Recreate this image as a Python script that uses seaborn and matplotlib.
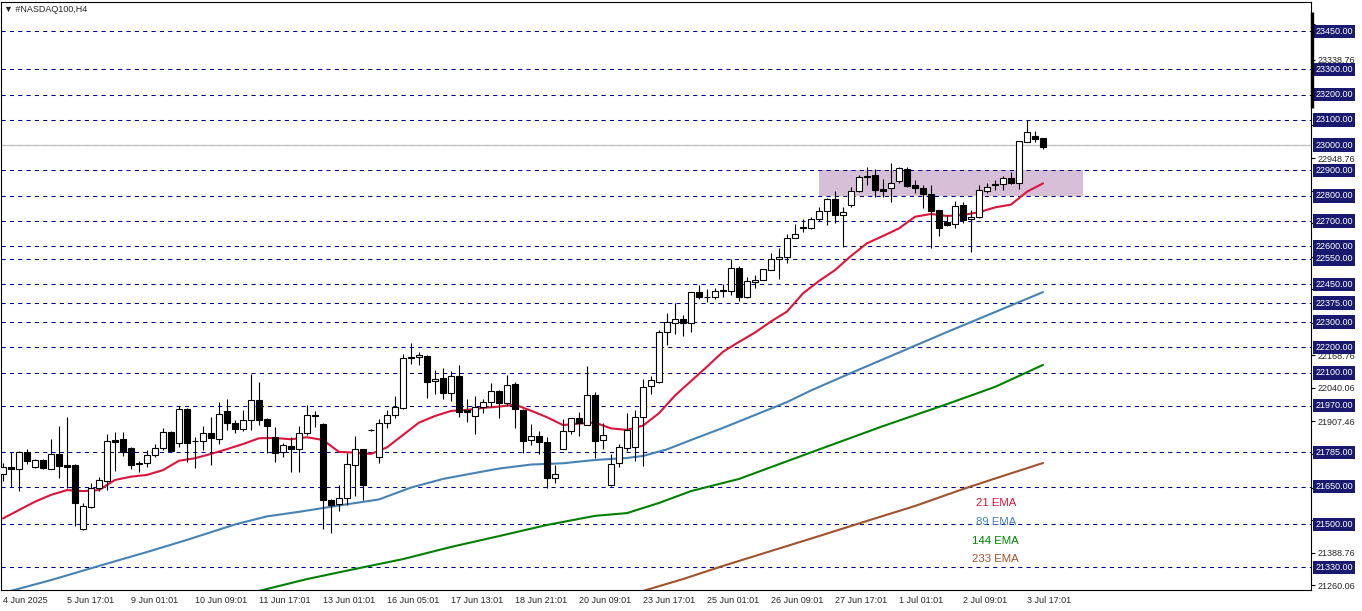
import numpy as np
import pandas as pd
import matplotlib
matplotlib.use("Agg")
import matplotlib.pyplot as plt
import matplotlib.transforms as mtransforms
import seaborn as sns

# ---- data ----
opens = [21698, 21726, 21718, 21785, 21728, 21755, 21721, 21779, 21734, 21735,
         21481, 21570, 21644, 21673, 21833, 21837, 21804, 21742, 21742, 21775,
         21801, 21866, 21821, 21958, 21832, 21830, 21862, 21839, 21948, 21901,
         21876, 21912, 21991, 21917, 21847, 21785, 21809, 21797, 21861, 21933,
         21899, 21597, 21581, 21603, 21734, 21798, 21875, 21768, 21900, 21932,
         21959, 22162, 22161, 22165, 22066, 22078, 22021, 22086, 21953, 21930,
         21965, 21983, 22027, 21982, 22056, 21953, 21833, 21849, 21825, 21685,
         21800, 21868, 21920, 21895, 22011, 21833, 21655, 21742, 21804, 21805,
         21926, 22049, 22062, 22262, 22298, 22311, 22296, 22418, 22401, 22398,
         22426, 22422, 22513, 22401, 22458, 22466, 22505, 22549, 22557, 22632,
         22677, 22673, 22707, 22741, 22786, 22723, 22762, 22818, 22877, 22881,
         22826, 22830, 22857, 22905, 22841, 22830, 22806, 22744, 22697, 22687,
         22762, 22708, 22715, 22820, 22843, 22847, 22869, 22849, 23014, 23036,
         23027]
highs = [21742, 21785, 21792, 21797, 21759, 21760, 21838, 21889, 21925, 21738,
         21586, 21663, 21687, 21858, 21866, 21866, 21808, 21751, 21795, 21817,
         21882, 21871, 21969, 21959, 21845, 21891, 21924, 21986, 21995, 21913,
         21953, 22095, 22064, 21922, 21887, 21821, 21845, 21891, 21971, 21948,
         21903, 21599, 21656, 21783, 21850, 21800, 21877, 21917, 21953, 22008,
         22174, 22217, 22183, 22169, 22110, 22118, 22106, 22132, 21995, 22008,
         21996, 22061, 22031, 22091, 22062, 21955, 21896, 21870, 21847, 21735,
         21918, 21922, 21945, 22127, 22024, 21902, 21778, 21818, 21940, 21952,
         22074, 22087, 22269, 22335, 22375, 22328, 22420, 22447, 22430, 22434,
         22451, 22549, 22522, 22479, 22485, 22510, 22572, 22595, 22649, 22688,
         22707, 22715, 22754, 22791, 22819, 22754, 22836, 22882, 22913, 22905,
         22866, 22931, 22913, 22913, 22862, 22841, 22841, 22745, 22724, 22779,
         22777, 22744, 22841, 22849, 22862, 22878, 22895, 23018, 23100, 23057,
         23028]
lows = [21673, 21647, 21634, 21738, 21725, 21721, 21718, 21684, 21645, 21494,
        21478, 21566, 21632, 21636, 21713, 21772, 21721, 21709, 21726, 21768,
        21795, 21788, 21808, 21748, 21725, 21795, 21736, 21817, 21875, 21861,
        21871, 21874, 21893, 21783, 21748, 21768, 21709, 21709, 21854, 21887,
        21481, 21465, 21553, 21577, 21613, 21597, 21871, 21744, 21883, 21920,
        21957, 22135, 22132, 22001, 22017, 21996, 21988, 21924, 21904, 21857,
        21940, 21966, 21920, 21969, 21880, 21784, 21814, 21778, 21643, 21665,
        21798, 21858, 21850, 21893, 21762, 21797, 21653, 21729, 21792, 21752,
        21732, 22015, 22060, 22210, 22252, 22247, 22262, 22391, 22381, 22391,
        22401, 22408, 22385, 22397, 22434, 22465, 22505, 22472, 22533, 22631,
        22658, 22670, 22699, 22683, 22693, 22599, 22754, 22816, 22844, 22794,
        22794, 22777, 22849, 22834, 22810, 22750, 22592, 22641, 22680, 22671,
        22691, 22579, 22714, 22810, 22823, 22823, 22847, 22827, 23013, 23014,
        22986]
closes = [21728, 21718, 21785, 21752, 21755, 21725, 21779, 21732, 21728, 21586,
          21573, 21644, 21676, 21830, 21827, 21788, 21736, 21738, 21774, 21801,
          21866, 21792, 21956, 21823, 21829, 21861, 21843, 21936, 21900, 21876,
          21912, 21991, 21914, 21889, 21784, 21813, 21797, 21861, 21932, 21928,
          21596, 21576, 21605, 21738, 21797, 21657, 21873, 21900, 21932, 21963,
          22157, 22160, 22169, 22065, 22077, 22021, 22086, 21944, 21944, 21966,
          21983, 22027, 21982, 22050, 21956, 21831, 21849, 21825, 21685, 21698,
          21868, 21920, 21900, 22011, 21831, 21853, 21738, 21805, 21874, 21924,
          22045, 22070, 22260, 22300, 22311, 22296, 22418, 22398, 22398, 22422,
          22422, 22513, 22401, 22462, 22466, 22509, 22549, 22558, 22632, 22648,
          22671, 22707, 22739, 22786, 22723, 22735, 22818, 22874, 22873, 22824,
          22820, 22849, 22909, 22840, 22830, 22806, 22741, 22671, 22684, 22761,
          22704, 22717, 22822, 22836, 22847, 22869, 22849, 23017, 23053, 23026,
          22994]

ema21_bar = list(range(0, 131, 2))
ema21 = [21524, 21557, 21590, 21617, 21636, 21632, 21636, 21676, 21689, 21696,
         21715, 21752, 21762, 21779, 21798, 21818, 21841, 21842, 21837, 21845,
         21834, 21787, 21784, 21779, 21805, 21854, 21903, 21929, 21949, 21953,
         21961, 21966, 21974, 21950, 21924, 21893, 21899, 21903, 21880, 21874,
         21891, 21940, 22010, 22067, 22124, 22183, 22222, 22259, 22303, 22342,
         22414, 22463, 22506, 22562, 22612, 22641, 22671, 22717, 22728, 22720,
         22724, 22735, 22754, 22765, 22816, 22849]
ema89_bar = [0, 6, 12, 18, 23, 29, 33, 37, 42, 47, 51, 55, 58, 62, 66, 70, 74,
             78, 80, 83, 86, 90, 94, 98, 101, 106, 112, 118, 124, 130]
ema89 = [21229, 21280, 21336, 21391, 21439, 21500, 21532, 21550, 21575, 21599,
         21646, 21680, 21698, 21721, 21737, 21742, 21755, 21763, 21771, 21797,
         21834, 21882, 21933, 21984, 22030, 22099, 22180, 22261, 22340, 22419]
ema144_bar = [32, 38, 44, 50, 56, 62, 68, 74, 78, 82, 86, 92, 101, 110, 118, 124, 130]
ema144 = [21237, 21284, 21324, 21363, 21411, 21454, 21498, 21534, 21545, 21585,
          21632, 21680, 21785, 21889, 21976, 22044, 22131]
ema233_bar = [80, 85, 90, 96, 102, 108, 114, 120, 125, 130]
ema233 = [21237, 21284, 21336, 21395, 21454, 21514, 21573, 21640, 21692, 21743]

date_labels = ["4 Jun 2025", "5 Jun 17:01", "9 Jun 01:01", "10 Jun 09:01",
               "11 Jun 17:01", "13 Jun 01:01", "16 Jun 05:01", "17 Jun 13:01",
               "18 Jun 21:01", "20 Jun 09:01", "23 Jun 17:01", "25 Jun 01:01",
               "26 Jun 09:01", "27 Jun 17:01", "1 Jul 01:01", "2 Jul 09:01",
               "3 Jul 17:01"]
price_ticks = [21260.06, 21388.76, 21517.46, 21646.16, 21778.76, 21907.46,
               22040.06, 22168.76, 22297.46, 22430.06, 22558.76, 22691.56,
               22820.06, 22948.76, 23081.58, 23210.06, 23338.76, 23477.36]
levels = [23450, 23300, 23200, 23100, 23000, 22900, 22800, 22700, 22600, 22550,
          22450, 22375, 22300, 22200, 22100, 21970, 21785, 21650, 21500, 21330]
bid = 23000
zone_low, zone_high = 22800, 22900
zone_start, zone_end = 102, 135
ema_names = ["21 EMA", "89 EMA", "144 EMA", "233 EMA"]

# ---- style ----
sns.set_style("white")
plt.rcParams["font.family"] = ["Liberation Sans", "DejaVu Sans"]
FS = 6.5
NAVY = "#191970"
col21, col89, col144, col233 = "#DC143C", "#4682B4", "#008000", "#A0522D"

W, H = 1362, 611
fig = plt.figure(figsize=(W / 100, H / 100), dpi=100)
ax = fig.add_axes([0.5 / W, 1 - 590 / H, 1310.5 / W, 588.5 / H])
ax.set_xlim(-0.3125, 163.5)
ax.set_ylim(21240.8, 23568.3)
ytrans = mtransforms.blended_transform_factory(ax.transAxes, ax.transData)

# levels
for lv in levels:
    ax.axhline(lv, color="#000080", lw=0.75, ls=(0, (4, 4)), zorder=1)
ax.axhline(bid, color="#C0C0C0", lw=0.9, zorder=1.2)

# zone
ax.axhspan(zone_low, zone_high,
           xmin=(zone_start + 0.3125) / 163.8125, xmax=(zone_end + 0.3125) / 163.8125,
           color="#D8BFD8", lw=0, zorder=0.9)

# EMAs
sns.lineplot(x=ema233_bar, y=ema233, ax=ax, color=col233, lw=1.5, zorder=2)
sns.lineplot(x=ema144_bar, y=ema144, ax=ax, color=col144, lw=1.5, zorder=2)
sns.lineplot(x=ema89_bar, y=ema89, ax=ax, color=col89, lw=1.5, zorder=2)
sns.lineplot(x=ema21_bar, y=ema21, ax=ax, color=col21, lw=1.5, zorder=2)

# candles
df = pd.DataFrame({"o": opens, "h": highs, "l": lows, "c": closes})
df["x"] = np.arange(len(df))
ax.vlines(df["x"], df["l"], df["h"], color="black", lw=0.8, zorder=3)
up = df["c"] >= df["o"]
bottom = np.minimum(df["o"], df["c"])
height = (df["c"] - df["o"]).abs()
ax.bar(df["x"][up], height[up], bottom=bottom[up], width=0.68,
       facecolor="white", edgecolor="black", lw=0.8, zorder=4)
ax.bar(df["x"][~up], height[~up], bottom=bottom[~up], width=0.68,
       facecolor="black", edgecolor="black", lw=0.8, zorder=4)

# EMA legend texts
for name, col, yv in zip(ema_names, [col21, col89, col144, col233],
                         [21584, 21511, 21435, 21363]):
    ax.text(124.1, yv, name, color=col, fontsize=8.2, ha="center", va="center")

# axes
for s in ax.spines.values():
    s.set_color("black")
    s.set_linewidth(0.8)
ax.yaxis.tick_right()
ax.set_yticks(price_ticks)
# labels sitting under a highlighted level box are hidden in the original
span = 23568.3 - 21240.8
tick_text = []
for v in price_ticks:
    near = min(abs(v - lv) for lv in levels)
    tick_text.append("" if near < span * 7.5 / 588.5 else f"{v:.2f}")
ax.set_yticklabels(tick_text, fontsize=FS)
ax.set_xticks(range(0, 8 * len(date_labels), 8))
ax.set_xticklabels(date_labels, fontsize=FS, ha="left")
ax.tick_params(axis="both", direction="out", length=3, width=0.8, color="black", pad=2)
ax.tick_params(axis="x", pad=1)
ax.set_xlabel("")
ax.set_ylabel("")

for lv in levels:
    ax.text(1.0035, lv, f"{lv:.2f}", transform=ytrans, color="white", fontsize=FS,
            ha="left", va="center", clip_on=False, zorder=6,
            bbox=dict(boxstyle="square,pad=0.25", facecolor=NAVY, edgecolor="none"))

ax.plot([1.0005, 1.0005], [23528, 23147], transform=ytrans, color="black",
        lw=2.4, clip_on=False, zorder=7, solid_capstyle="butt")

fig.text(4 / W, 1 - 9 / H, "\u25bc #NASDAQ100,H4", fontsize=FS, ha="left", va="center")

fig.savefig("out.png", dpi=100)
